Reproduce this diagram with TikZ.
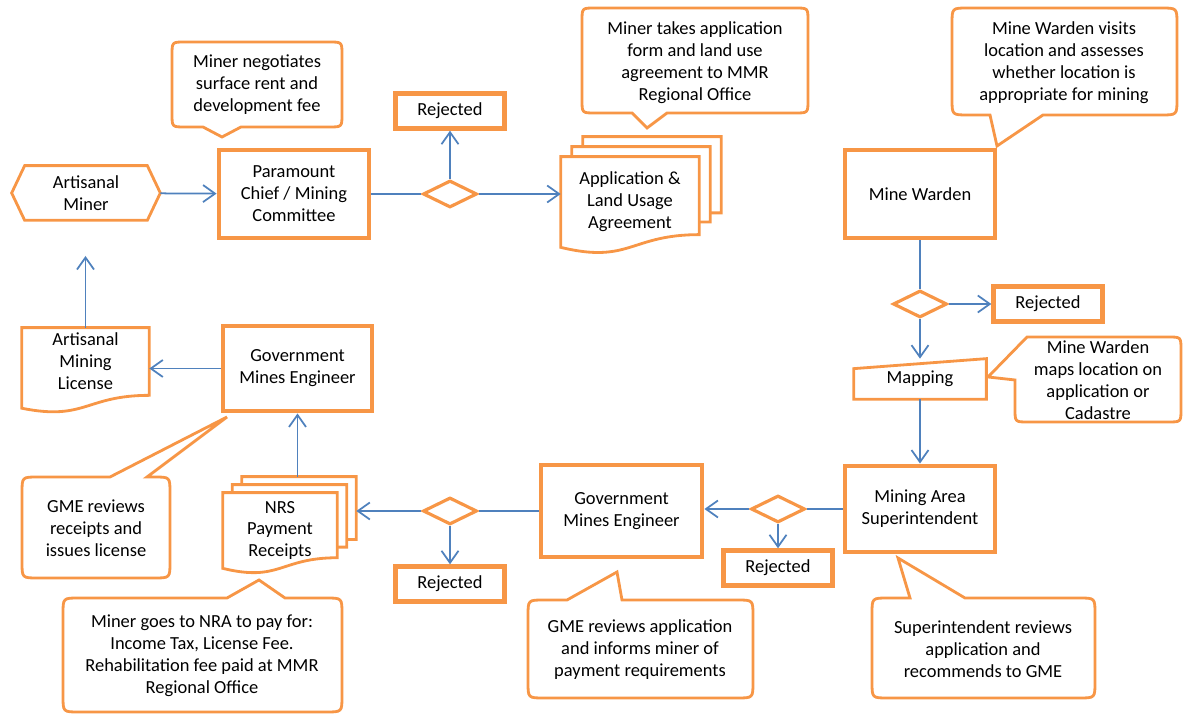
\documentclass[tikz,border=0pt]{standalone}
\usepackage{fontspec}
\setmainfont{Carlito}
\usepackage{tikz}
\usetikzlibrary{shapes,calc,arrows.meta}
\definecolor{orng}{HTML}{F79646}
\definecolor{blu}{HTML}{4F81BD}
\tikzstyle{procbox}=[draw=orng, line width=2.8pt, fill=white, align=center, inner sep=0pt]
\tikzstyle{rejbox}=[draw=orng, line width=2.5pt, fill=white, minimum width=2.18cm, minimum height=0.7cm, inner sep=0pt]
\tikzstyle{decision}=[diamond, draw=orng, line width=1.8pt, fill=white, minimum width=1.08cm, minimum height=0.54cm, inner sep=0pt]
\tikzstyle{txt}=[align=center, inner sep=0pt]
\tikzstyle{docline}=[draw=orng, line width=1.6pt]
\tikzstyle{bubble}=[draw=orng, line width=1.6pt, fill=white]
\tikzstyle{flow}=[draw=blu, line width=1pt, -{Straight Barb[length=2.4mm,width=3.4mm]}]
\tikzstyle{link}=[draw=blu, line width=1pt]
\newcommand{\docframe}[4]{\draw[docline] (#1.north west) -- (#1.north east) -- ($(#1.north east)!#2!(#1.south east)$) .. controls ($(#1.north)!#2!(#1.south)$) and ($(#1.north)!#4!(#1.south)$) .. ($(#1.north west)!#3!(#1.south west)$) -- cycle;}
\newcommand{\docpages}[3]{%
\draw[docline] ($(#1.north west)+(#2,0)$) -- ++(0,-#3) -- ($(#1.north east)+(#2,-#3)$) -- ($(#1.north east)!0.72!(#1.south east)+(#2,0)$) -- ($(#1.north east)!0.72!(#1.south east)$);
\draw[docline] ($(#1.north west)+(2*#2,-#3)$) -- ++(0,-#3) -- ($(#1.north east)+(2*#2,-2*#3)$) -- ($(#1.north east)!0.62!(#1.south east)+(2*#2,0)$) -- ($(#1.north east)!0.62!(#1.south east)+(#2,0)$);}
\begin{document}
\begin{tikzpicture}[x=0.02cm,y=-0.02cm,font=\fontsize{10.5}{12.5}\selectfont]
\useasboundingbox (0,0) rectangle (1184,715);

\draw[bubble] (185,42) -- (329,42) .. controls (342,42) .. (342,55) -- (342,114) .. controls (342,127) .. (329,127) -- (241,127) -- (222,137) -- (203,127) -- (185,127) .. controls (172,127) .. (172,114) -- (172,55) .. controls (172,42) .. (185,42) -- cycle;
\draw[bubble] (595,8) -- (795,8) .. controls (808,8) .. (808,21) -- (808,100) .. controls (808,113) .. (795,113) -- (667,113) -- (647,128) -- (632,113) -- (595,113) .. controls (582,113) .. (582,100) -- (582,21) .. controls (582,8) .. (595,8) -- cycle;
\draw[bubble] (968,8) -- (1161,8) .. controls (1177,8) .. (1177,24) -- (1177,99) .. controls (1177,115) .. (1161,115) -- (1043,115) -- (997,146) -- (990,115) -- (968,115) .. controls (952,115) .. (952,99) -- (952,24) .. controls (952,8) .. (968,8) -- cycle;
\draw[bubble] (1027,337) -- (1168,337) .. controls (1181,337) .. (1181,350) -- (1181,409) .. controls (1181,422) .. (1168,422) -- (1028,422) .. controls (1015,422) .. (1015,409) -- (1015,380) -- (988,377) -- cycle;
\draw[bubble] (38,477) -- (110,477) -- (227,417) -- (147,477) -- (154,477) .. controls (170,477) .. (170,493) -- (170,562) .. controls (170,578) .. (154,578) -- (38,578) .. controls (22,578) .. (22,562) -- (22,493) .. controls (22,477) .. (38,477) -- cycle;
\draw[bubble] (79,598) -- (227,598) -- (259,580) -- (285,598) -- (326,598) .. controls (342,598) .. (342,614) -- (342,696) .. controls (342,712) .. (326,712) -- (79,712) .. controls (63,712) .. (63,696) -- (63,614) .. controls (63,598) .. (79,598) -- cycle;
\draw[bubble] (544,600) -- (567,600) -- (617,572) -- (622,600) -- (737,600) .. controls (753,600) .. (753,616) -- (753,682) .. controls (753,698) .. (737,698) -- (544,698) .. controls (528,698) .. (528,682) -- (528,616) .. controls (528,600) .. (544,600) -- cycle;
\draw[bubble] (888,598) -- (910,598) -- (898,558) -- (965,598) -- (1079,598) .. controls (1095,598) .. (1095,614) -- (1095,682) .. controls (1095,698) .. (1079,698) -- (888,698) .. controls (872,698) .. (872,682) -- (872,614) .. controls (872,598) .. (888,598) -- cycle;

\node[txt] (noteRent) at (257,85) {Miner negotiates\\surface rent and\\development fee};
\node[txt] (noteForm) at (695,63) {Miner takes application\\form and land use\\agreement to MMR\\Regional Office};
\node[txt] (noteVisit) at (1064,63) {Mine Warden visits\\location and assesses\\whether location is\\appropriate for mining};
\node[txt] (noteMap) at (1098,380) {Mine Warden\\maps location on\\application or\\Cadastre};
\node[txt] (noteIssue) at (96,528) {GME reviews\\receipts and\\issues license};
\node[txt] (notePay) at (202,656) {Miner goes to NRA to pay for:\\Income Tax, License Fee.\\Rehabilitation fee paid at MMR\\Regional Office};
\node[txt] (noteInform) at (640,650) {GME reviews application\\and informs miner of\\payment requirements};
\node[txt] (noteAdvise) at (983,649) {Superintendent reviews\\application and\\recommends to GME};

\node[txt, minimum width=2.96cm, minimum height=1.08cm] (miner) at (86,193) {Artisanal\\Miner};
\draw[docline] (miner.west) -- ($(miner.north west)+(13,0)$) -- ($(miner.north east)+(-13,0)$) -- (miner.east) -- ($(miner.south east)+(-13,0)$) -- ($(miner.south west)+(13,0)$) -- cycle;
\node[procbox, minimum width=3cm, minimum height=1.76cm] (chief) at (294,194) {Paramount\\Chief / Mining\\Committee};
\node[decision] (check1) at (450,194) {};
\node[rejbox] (rej1) at (450,111) {Rejected};
\node[txt, minimum width=2.76cm, minimum height=1.8cm] (appdoc) at (630,202) {Application \&\\Land Usage\\Agreement};
\docpages{appdoc}{11}{10}
\docframe{appdoc}{0.86}{1}{1.185}

\node[procbox, minimum width=3cm, minimum height=1.76cm] (warden) at (920,194) {Mine Warden};
\node[decision] (check2) at (920,304) {};
\node[rejbox] (rej2) at (1048,304) {Rejected};
\node[txt, minimum width=2.64cm, minimum height=0.8cm] (mapping) at (920,379) {Mapping};
\draw[docline] (mapping.south west) -- ($(mapping.north west)+(0,10)$) -- (mapping.north east) -- (mapping.south east) -- cycle;
\node[procbox, minimum width=3cm, minimum height=1.72cm] (super) at (920,509) {Mining Area\\Superintendent};
\node[decision] (check3) at (778,509) {};
\node[rejbox] (rej3) at (778,568) {Rejected};
\node[procbox, minimum width=3.22cm, minimum height=1.84cm] (gmeB) at (621.5,511) {Government\\Mines Engineer};
\node[decision] (check4) at (450,511) {};
\node[rejbox] (rej4) at (450,584) {Rejected};
\node[txt, minimum width=2.28cm, minimum height=1.5cm] (receipts) at (280,530.5) {NRS\\Payment\\Receipts};
\docpages{receipts}{9.5}{8}
\docframe{receipts}{0.86}{1}{1.185}
\coordinate (receiptsTop) at ($(receipts.north east)+(19,-16)$);
\node[procbox, minimum width=2.98cm, minimum height=1.7cm] (gmeA) at (297.5,368.5) {Government\\Mines Engineer};
\node[txt, minimum width=2.54cm, minimum height=1.34cm] (license) at (85.5,361.5) {Artisanal\\Mining\\License};
\docframe{license}{1}{1.19}{1.38}
\coordinate (licenseUp) at (86,256);

\draw[flow] (miner) -- (chief);
\draw[link] (chief) -- (check1);
\draw[flow] (check1) -- (check1 -| appdoc.west);
\draw[flow] (check1) -- (rej1);
\draw[link] (warden) -- (check2);
\draw[flow] (check2) -- (rej2);
\draw[flow] (check2) -- (mapping);
\draw[flow] (mapping) -- (super);
\draw[link] (super) -- (check3);
\draw[flow] (check3) -- (check3 -| gmeB.east);
\draw[flow] (check3) -- (rej3);
\draw[link] (gmeB) -- (check4);
\draw[flow] (check4) -- (check4 -| receiptsTop);
\draw[flow] (check4) -- (rej4);
\draw[flow] (gmeA.south |- receiptsTop) -- (gmeA);
\draw[flow] (gmeA) -- (gmeA -| license.east);
\draw[flow] (license) -- (license.north |- licenseUp);
\end{tikzpicture}
\end{document}
